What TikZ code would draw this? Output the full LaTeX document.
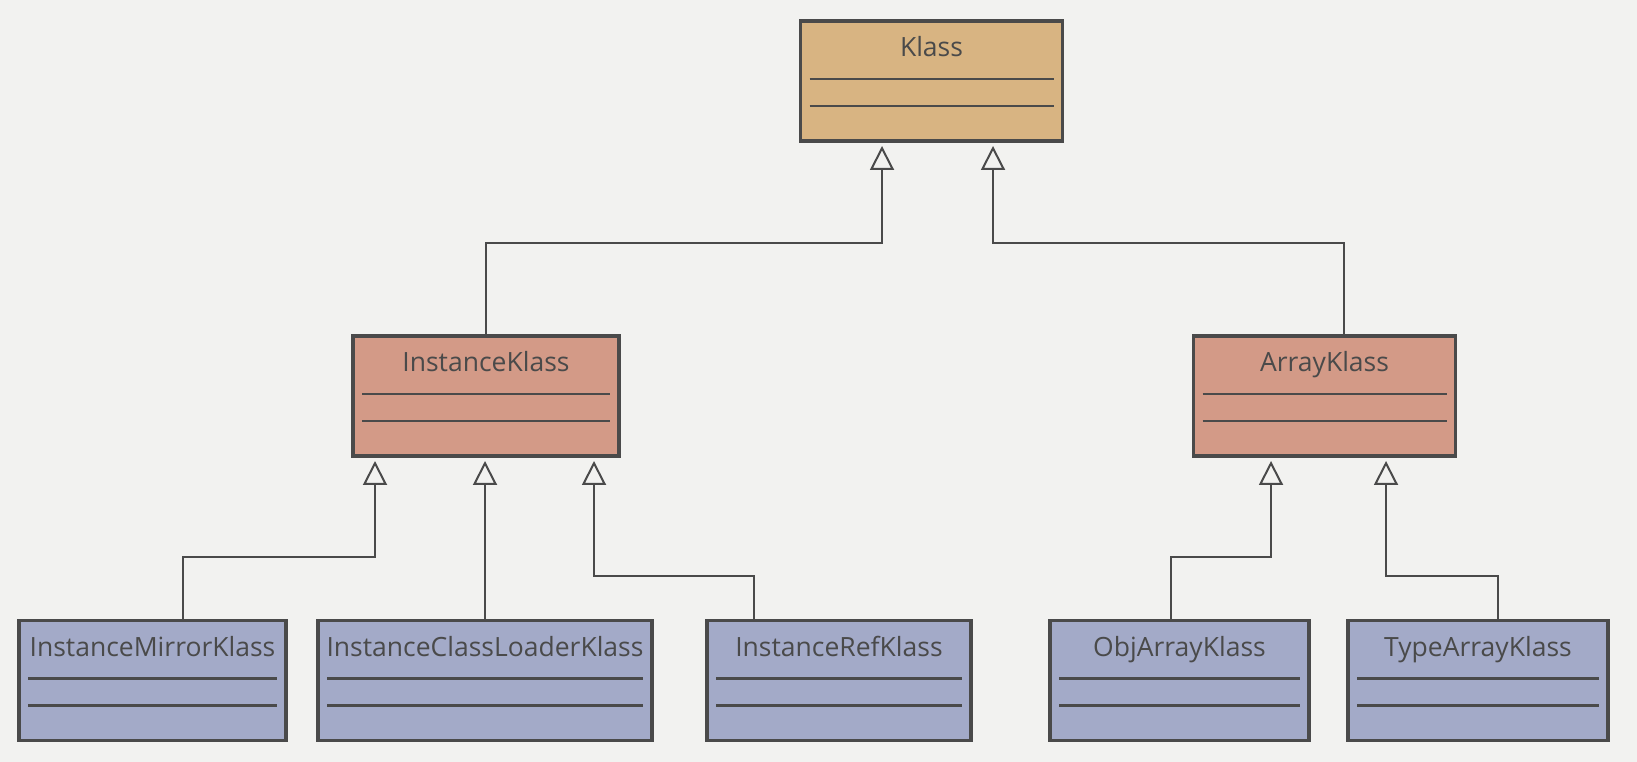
\documentclass[tikz,border=0pt]{standalone}
\usepackage{fontspec}
\setmainfont{Open Sans}
\usetikzlibrary{positioning,arrows.meta}
\definecolor{paper}{HTML}{F2F2F0}
\definecolor{ink}{HTML}{4A4A4A}
\definecolor{klasstan}{HTML}{D8B482}
\definecolor{midsalmon}{HTML}{D39A87}
\definecolor{leafblue}{HTML}{A3AAC8}
\tikzset{classbox/.style={draw=ink,line width=3.5pt,outer sep=0pt,inner sep=0pt,
    minimum width=262pt,text height=36pt,text depth=84pt,text=ink,
    path picture={\foreach \d in {58,85}
      \draw[ink,line width=2.2pt] ([xshift=9pt,yshift=-\d pt]path picture bounding box.north west)
        -- ([xshift=-9pt,yshift=-\d pt]path picture bounding box.north east);}} }
\tikzset{inherit/.style={draw=ink,line width=2pt,-{Triangle[open,width=24pt,length=24pt]},shorten >=5pt} }

\begin{document}
\begin{tikzpicture}[x=1pt,y=1pt,font=\fontsize{26.5}{30}\selectfont]
    \fill[paper] (0,0) rectangle (1637,762);
    \node[classbox,fill=klasstan] (klass) at (931.5,681) {Klass};
    \node[classbox,fill=midsalmon,minimum width=266pt] (ik) at (486,366) {InstanceKlass};
    \node[classbox,fill=midsalmon] (ak) at (1324.5,366) {ArrayKlass};
    \node[classbox,fill=leafblue,minimum width=267pt] (imk) at (152.5,81.5) {InstanceMirrorKlass};
    \node[classbox,fill=leafblue,minimum width=334pt,right=32pt of imk] (iclk) {InstanceClassLoaderKlass};
    \node[classbox,fill=leafblue,minimum width=264pt,right=55pt of iclk] (irk) {InstanceRefKlass};
    \node[classbox,fill=leafblue,minimum width=259pt,right=79pt of irk] (oak) {ObjArrayKlass};
    \node[classbox,fill=leafblue,minimum width=260pt,right=39pt of oak] (tak) {TypeArrayKlass};
    \draw[inherit] (ik.north) -- ++(0,93) -| ([xshift=-49.5pt]klass.south);
    \draw[inherit] ([xshift=19.5pt]ak.north) -- ++(0,93) -| ([xshift=61.5pt]klass.south);
    \draw[inherit] ([xshift=30.5pt]imk.north) -- ++(0,63.5) -| ([xshift=-111pt]ik.south);
    \draw[inherit] (iclk.north) -- (iclk.north |- ik.south);
    \draw[inherit] ([xshift=-85pt]irk.north) -- ++(0,44.5) -| ([xshift=108pt]ik.south);
    \draw[inherit] ([xshift=-8.5pt]oak.north) -- ++(0,63.5) -| ([xshift=-53.5pt]ak.south);
    \draw[inherit] ([xshift=20pt]tak.north) -- ++(0,44.5) -| ([xshift=61.5pt]ak.south);
\end{tikzpicture}
\end{document}
